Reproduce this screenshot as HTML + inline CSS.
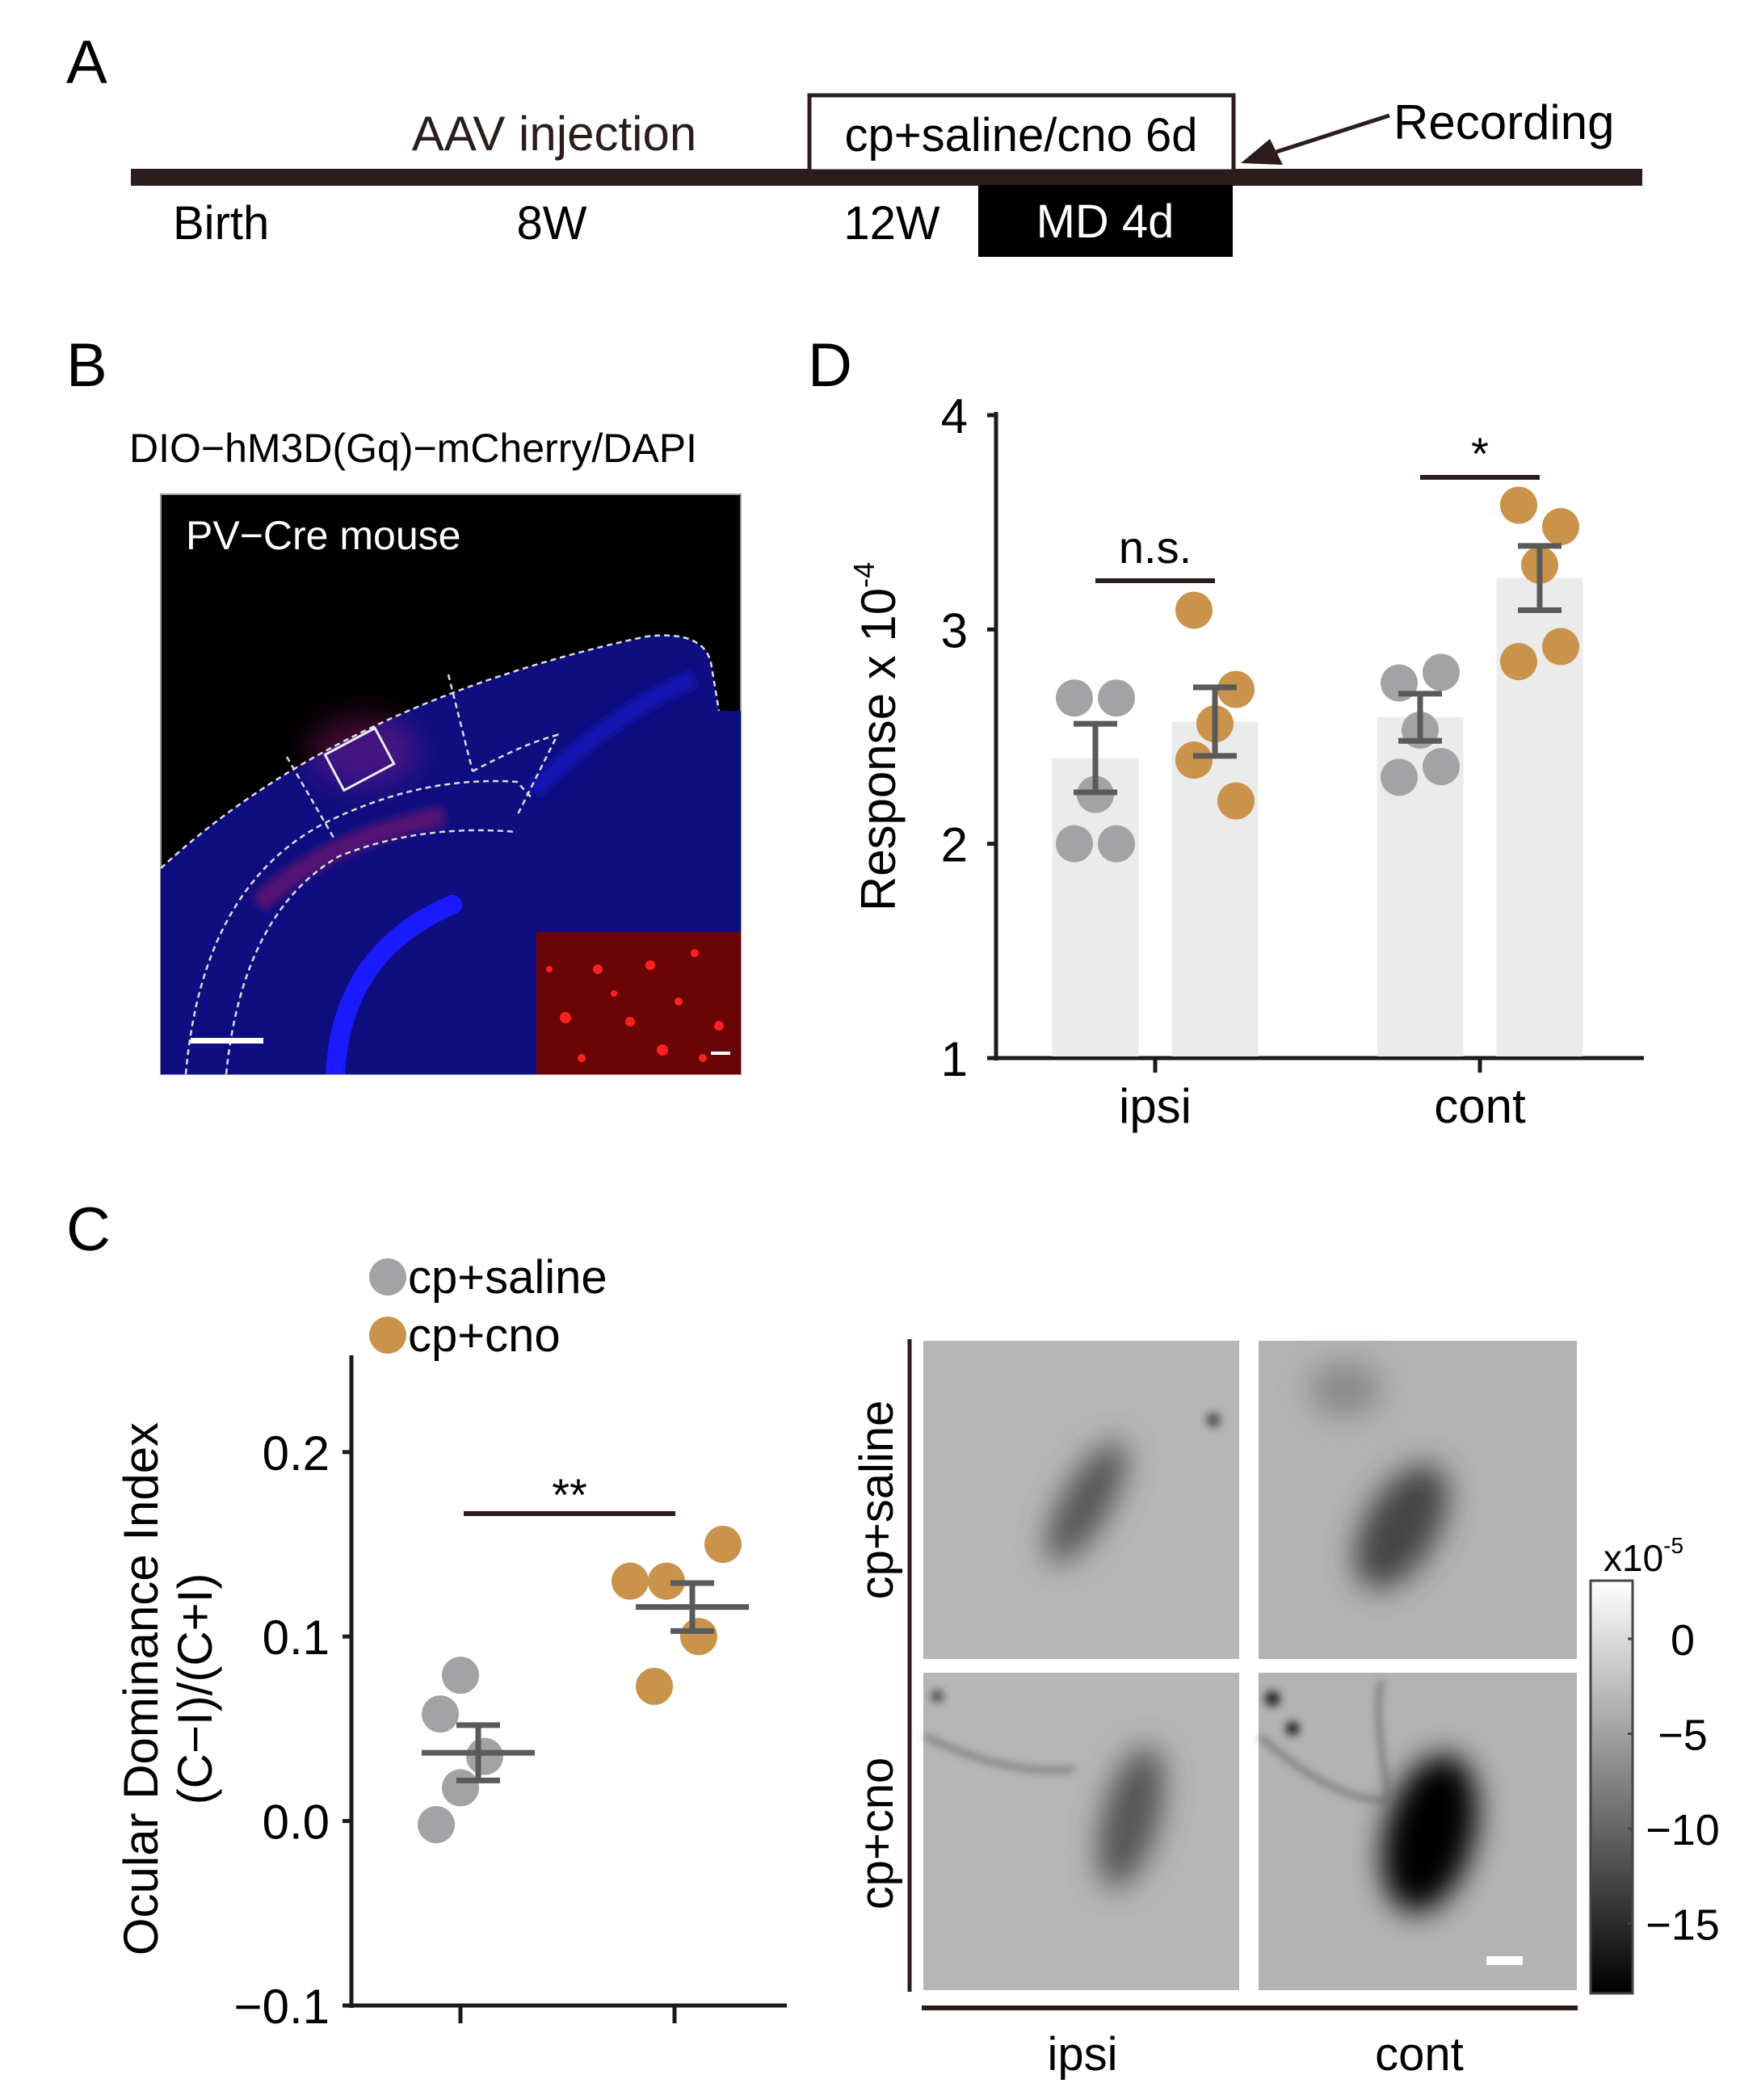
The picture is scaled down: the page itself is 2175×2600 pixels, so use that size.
<!DOCTYPE html>
<html><head><meta charset="utf-8"><style>
html,body{margin:0;padding:0;background:#fff;}
svg{display:block;font-family:"Liberation Sans",Arial,sans-serif;}
</style></head><body>
<svg id="fig" width="2175" height="2600" viewBox="0 0 2175 2600" xmlns="http://www.w3.org/2000/svg">
<defs>
<filter id="blur8" x="-50%" y="-50%" width="200%" height="200%"><feGaussianBlur stdDeviation="18"/></filter>
<filter id="blur4" x="-50%" y="-50%" width="200%" height="200%"><feGaussianBlur stdDeviation="5"/></filter>
<linearGradient id="cbar" x1="0" y1="1" x2="0" y2="0"><stop offset="0" stop-color="#000"/><stop offset="1" stop-color="#fff"/></linearGradient>
<clipPath id="brainclip"><rect x="199" y="612" width="718" height="718"/></clipPath>
</defs>

<g>
<text x="82" y="103" font-size="76">A</text>
<rect x="162" y="209" width="1871" height="21" fill="#2a1d1b"/>
<text x="686" y="186" font-size="60" text-anchor="middle" fill="#2a1d1b">AAV injection</text>
<rect x="1002" y="118" width="525" height="94" fill="#fff" stroke="#2a1d1b" stroke-width="5"/>
<text x="1264" y="187" font-size="58" text-anchor="middle">cp+saline/cno 6d</text>
<text x="1725" y="172" font-size="60">Recording</text>
<line x1="1720" y1="143" x2="1580" y2="188" stroke="#2a1d1b" stroke-width="5"/>
<polygon points="1536,202 1572,172 1588,204" fill="#2a1d1b"/>
<text x="214" y="296" font-size="58">Birth</text>
<text x="683" y="296" font-size="58" text-anchor="middle">8W</text>
<text x="1104" y="296" font-size="58" text-anchor="middle">12W</text>
<rect x="1211" y="229" width="315" height="89" fill="#000"/>
<text x="1368" y="294" font-size="58" text-anchor="middle" fill="#fff">MD 4d</text>
</g>

<g>
<text x="82" y="478" font-size="76">B</text>
<text x="160" y="572" font-size="50">DIO−hM3D(Gq)−mCherry/DAPI</text>
<rect x="199" y="612" width="718" height="718" fill="#000" stroke="#999" stroke-width="2"/>
<g clip-path="url(#brainclip)">
<path d="M199,1330 L199,1075 Q420,870 800,788 Q870,780 880,820 L890,880 L917,880 L917,1330 Z" fill="#0e0e80"/>
<path d="M415,1335 Q420,1180 560,1120" stroke="#1a1aff" stroke-width="24" fill="none" stroke-linecap="round"/>
<path d="M660,980 Q760,880 860,840" stroke="#1515c0" stroke-width="22" fill="none" opacity="0.8" filter="url(#blur4)"/>
<ellipse cx="450" cy="930" rx="70" ry="45" fill="#b0208a" opacity="0.35" filter="url(#blur8)"/>
<path d="M320,1120 Q400,1040 550,1010" stroke="#c01a60" stroke-width="25" fill="none" opacity="0.4" filter="url(#blur4)"/>
<path d="M199,1075 Q420,870 800,788 Q870,780 880,820 L890,880" stroke="#ddd" stroke-width="2.5" stroke-dasharray="7,5" fill="none"/>
<path d="M230,1330 Q250,1100 400,1020 Q520,960 640,968 L660,990 M280,1330 Q300,1130 420,1060 Q520,1020 640,1030" stroke="#ddd" stroke-width="2.5" stroke-dasharray="7,5" fill="none"/>
<path d="M355,937 L413,1037 M555,835 L585,955 M585,955 Q650,920 690,910 L640,1010" stroke="#ddd" stroke-width="2.5" stroke-dasharray="7,5" fill="none"/>
<rect x="410" y="915" width="70" height="50" transform="rotate(-28 445 940)" fill="none" stroke="#eee" stroke-width="3"/>
<rect x="664" y="1154" width="253" height="176" fill="#3a0000"/>
<rect x="664" y="1154" width="253" height="176" fill="#ff1010" opacity="0.25"/>
<g fill="#ff2020">
<circle cx="740" cy="1200" r="6"/><circle cx="805" cy="1195" r="6"/><circle cx="860" cy="1180" r="5"/><circle cx="700" cy="1260" r="7"/><circle cx="780" cy="1265" r="6"/><circle cx="840" cy="1240" r="5"/><circle cx="890" cy="1270" r="6"/><circle cx="720" cy="1310" r="5"/><circle cx="820" cy="1300" r="7"/><circle cx="870" cy="1310" r="5"/><circle cx="680" cy="1200" r="4"/><circle cx="760" cy="1230" r="4"/>
</g>
<rect x="880" y="1302" width="24" height="4" fill="#fff"/>
</g>
<text x="230" y="680" font-size="50" fill="#fff">PV−Cre mouse</text>
<rect x="236" y="1285" width="90" height="7" fill="#fff"/>
</g>

<text x="1000" y="478" font-size="76">D</text>
<g id="chartD"></g>

<text x="82" y="1548" font-size="76">C</text>
<g id="chartC"></g>

<g id="imaging">
<line x1="1126" y1="1658" x2="1126" y2="2466" stroke="#2a1d1b" stroke-width="5"/>
<line x1="1141" y1="2486" x2="1953" y2="2486" stroke="#2a1d1b" stroke-width="6"/>
<text transform="translate(1105,1857) rotate(-90)" font-size="58" text-anchor="middle">cp+saline</text>
<text transform="translate(1105,2270) rotate(-90)" font-size="58" text-anchor="middle">cp+cno</text>
<text x="1340" y="2563" font-size="58" text-anchor="middle">ipsi</text>
<text x="1757" y="2563" font-size="58" text-anchor="middle">cont</text>
<rect x="1143" y="1660" width="391" height="394" fill="#b6b6b6"/>
<rect x="1558" y="1660" width="394" height="394" fill="#b3b3b3"/>
<rect x="1143" y="2071" width="391" height="393" fill="#b6b6b6"/>
<rect x="1558" y="2071" width="394" height="393" fill="#b3b3b3"/>
<g filter="url(#blur8)">
<ellipse cx="1345" cy="1860" rx="30" ry="85" transform="rotate(30 1345 1860)" fill="#555"/>
<ellipse cx="1735" cy="1890" rx="45" ry="85" transform="rotate(30 1735 1890)" fill="#444"/>
<ellipse cx="1665" cy="1720" rx="45" ry="35" fill="#8a8a8a"/>
<ellipse cx="1400" cy="2250" rx="35" ry="90" transform="rotate(15 1400 2250)" fill="#555"/>
<ellipse cx="1770" cy="2270" rx="55" ry="100" transform="rotate(15 1770 2270)" fill="#000"/>
<ellipse cx="1770" cy="2270" rx="40" ry="80" transform="rotate(15 1770 2270)" fill="#000"/>
</g>
<path d="M1145,2150 Q1250,2200 1330,2190 M1560,2150 Q1650,2230 1720,2230 M1720,2230 Q1700,2120 1710,2080" stroke="#666" stroke-width="5" fill="none" filter="url(#blur4)"/>
<circle cx="1502" cy="1758" r="9" fill="#555" filter="url(#blur4)"/>
<circle cx="1575" cy="2103" r="10" fill="#333" filter="url(#blur4)"/>
<circle cx="1600" cy="2140" r="9" fill="#333" filter="url(#blur4)"/>
<circle cx="1160" cy="2100" r="8" fill="#555" filter="url(#blur4)"/>
<rect x="1840" y="2422" width="45" height="11" fill="#fff"/>
<rect x="1969" y="1957" width="52" height="511" fill="url(#cbar)" stroke="#444" stroke-width="3"/>
<text x="1985" y="1945" font-size="46">x10<tspan font-size="28" dy="-22">-5</tspan></text>
<g id="cbticks"></g>
</g>
</svg>
<script>
var NS="http://www.w3.org/2000/svg";
function mk(tag,attrs,parent,txt){var e=document.createElementNS(NS,tag);for(var k in attrs)e.setAttribute(k,attrs[k]);if(txt!==undefined)e.textContent=txt;parent.appendChild(e);return e;}

var dCategories=["ipsi","cont"];
var dGroups=["cp+saline","cp+cno"];
var dTickLabels=["1","2","3","4"];
var dTickValues=[1,2,3,4];
var dMeans=[[2.40,2.57],[2.59,3.24]];
var dSEM=[[0.16,0.16],[0.11,0.15]];
var dPointsIpsiSaline=[2.68,2.68,2.23,2.00,2.00];
var dPointsIpsiCno=[3.09,2.72,2.56,2.39,2.20];
var dPointsContSaline=[2.75,2.80,2.53,2.31,2.36];
var dPointsContCno=[3.58,3.48,3.30,2.85,2.92];
var dSigLabels=["n.s.","*"];

var cGroups=["cp+saline","cp+cno"];
var cTickLabels=["−0.1","0.0","0.1","0.2"];
var cTickValues=[-0.1,0,0.1,0.2];
var cPointsSaline=[0.079,0.058,0.035,0.018,-0.002];
var cPointsCno=[0.130,0.130,0.150,0.100,0.073];
var cMeans=[0.037,0.116];
var cSEM=[0.015,0.013];
var cSigLabel="**";

var cbTickLabels=["0","−5","−10","−15"];
var cbTickValues=[0,-5,-10,-15];

var colors=["#a3a3a5","#c9934b"];
var ink="#1a1a1a", errc="#5a5a5a";

(function(){
  var g=document.getElementById("chartD");
  var y0=1310,y1=514,vmin=1,vmax=4;
  function yv(v){return y0-(v-vmin)/(vmax-vmin)*(y0-y1);}
  var catX=[1430,1832], barOff=[-74,74], barW=107, jit=[-26,26,0,-26,26];
  mk("line",{x1:1233,y1:y1-4,x2:1233,y2:y0+3,stroke:ink,"stroke-width":5},g);
  mk("line",{x1:1231,y1:y0,x2:2035,y2:y0,stroke:ink,"stroke-width":5},g);
  dTickValues.forEach(function(v,i){
    mk("line",{x1:1233,y1:yv(v),x2:1222,y2:yv(v),stroke:ink,"stroke-width":5},g);
    var t=mk("text",{x:1198,y:yv(v)+22,"font-size":60,"text-anchor":"end"},g,dTickLabels[i]);
    
    
  });
  dCategories.forEach(function(c,i){
    mk("line",{x1:catX[i],y1:y0,x2:catX[i],y2:y0+18,stroke:ink,"stroke-width":5},g);
    var t=mk("text",{x:catX[i],y:1390,"font-size":60,"text-anchor":"middle"},g,c);
    
    
  });
  var pts=[[dPointsIpsiSaline,dPointsIpsiCno],[dPointsContSaline,dPointsContCno]];
  for(var i=0;i<2;i++)for(var j=0;j<2;j++){
    var cx=catX[i]+barOff[j];
    var b=mk("rect",{x:cx-barW/2,y:yv(dMeans[i][j]),width:barW,height:y0-2-yv(dMeans[i][j]),fill:"#ebebeb"},g);
    
    
    pts[i][j].forEach(function(v,k){
      var p=mk("circle",{cx:cx+jit[k],cy:yv(v),r:23,fill:colors[j]},g);
      
      
    });
    var hi=yv(dMeans[i][j]+dSEM[i][j]),lo=yv(dMeans[i][j]-dSEM[i][j]);
    var e=mk("path",{d:"M"+cx+","+hi+"V"+lo+"M"+(cx-27)+","+hi+"h54M"+(cx-27)+","+lo+"h54",stroke:errc,"stroke-width":7,fill:"none"},g);
    
    
  }
  var sigY=[719,591];
  for(var i=0;i<2;i++){
    var xa=catX[i]+barOff[0], xb=catX[i]+barOff[1];
    mk("line",{x1:xa,y1:sigY[i],x2:xb,y2:sigY[i],stroke:"#2a1d1b","stroke-width":6},g);
    var t=mk("text",{x:(xa+xb)/2,y:sigY[i]-(i?10:22),"font-size":56,"text-anchor":"middle"},g,dSigLabels[i]);
    
    
  }
  var yl=mk("text",{transform:"translate(1108,912) rotate(-90)","font-size":60,"text-anchor":"middle"},g);
  
  
  yl.innerHTML='Response x 10<tspan font-size="36" dy="-26">-4</tspan>';
})();

(function(){
  var g=document.getElementById("chartC");
  var y0=2483,vmin=-0.1,pxPer=2284;
  function yv(v){return y0-(v-vmin)*pxPer;}
  var gx=[570,835], jitS=[0,-25,30,0,-30], jitC=[-55,-10,60,30,-25];
  mk("line",{x1:435,y1:1678,x2:435,y2:y0+3,stroke:ink,"stroke-width":5},g);
  mk("line",{x1:433,y1:y0,x2:974,y2:y0,stroke:ink,"stroke-width":5},g);
  cTickValues.forEach(function(v,i){
    mk("line",{x1:435,y1:yv(v),x2:424,y2:yv(v),stroke:ink,"stroke-width":5},g);
    var t=mk("text",{x:408,y:yv(v)+22,"font-size":60,"text-anchor":"end"},g,cTickLabels[i]);
    
    
  });
  gx.forEach(function(x){mk("line",{x1:x,y1:y0,x2:x,y2:y0+22,stroke:ink,"stroke-width":5},g);});
  [cPointsSaline,cPointsCno].forEach(function(arr,j){
    var jit=j?jitC:jitS;
    arr.forEach(function(v,k){
      var p=mk("circle",{cx:gx[j]+jit[k],cy:yv(v),r:23,fill:colors[j]},g);
      
      
    });
    var m=yv(cMeans[j]),hi=yv(cMeans[j]+cSEM[j]),lo=yv(cMeans[j]-cSEM[j]);
    var e=mk("path",{d:"M"+(gx[j]-48)+","+m+"h140M"+(gx[j]+22)+","+hi+"V"+lo+"M"+(gx[j]-5)+","+hi+"h54M"+(gx[j]-5)+","+lo+"h54",stroke:errc,"stroke-width":7,fill:"none"},g);
    
    
  });
  mk("line",{x1:574,y1:1874,x2:836,y2:1874,stroke:"#2a1d1b","stroke-width":6},g);
  var t=mk("text",{x:705,y:1870,"font-size":56,"text-anchor":"middle"},g,cSigLabel);
  
  
  cGroups.forEach(function(n,j){
    var yy=[1581,1653][j];
    var c=mk("circle",{cx:480,cy:yy,r:23,fill:colors[j]},g);
    
    
    var l=mk("text",{x:505,y:yy+20,"font-size":58},g,n);
    
    
  });
  var a=mk("text",{transform:"translate(195,2091) rotate(-90)","font-size":60,"text-anchor":"middle"},g,"Ocular Dominance Index");
  
  
  var b=mk("text",{transform:"translate(262,2091) rotate(-90)","font-size":60,"text-anchor":"middle"},g,"(C−I)/(C+I)");
  
  
})();

(function(){
  var g=document.getElementById("cbticks");
  function yv(v){return 2029+(0-v)*23.5;}
  cbTickValues.forEach(function(v,i){
    mk("line",{x1:2015,y1:yv(v),x2:2021,y2:yv(v),stroke:"#444","stroke-width":3},g);
    var t=mk("text",{x:2083,y:yv(v)+20,"font-size":54,"text-anchor":"middle"},g,cbTickLabels[i]);
    
    
  });
})();
</script>
</body></html>
